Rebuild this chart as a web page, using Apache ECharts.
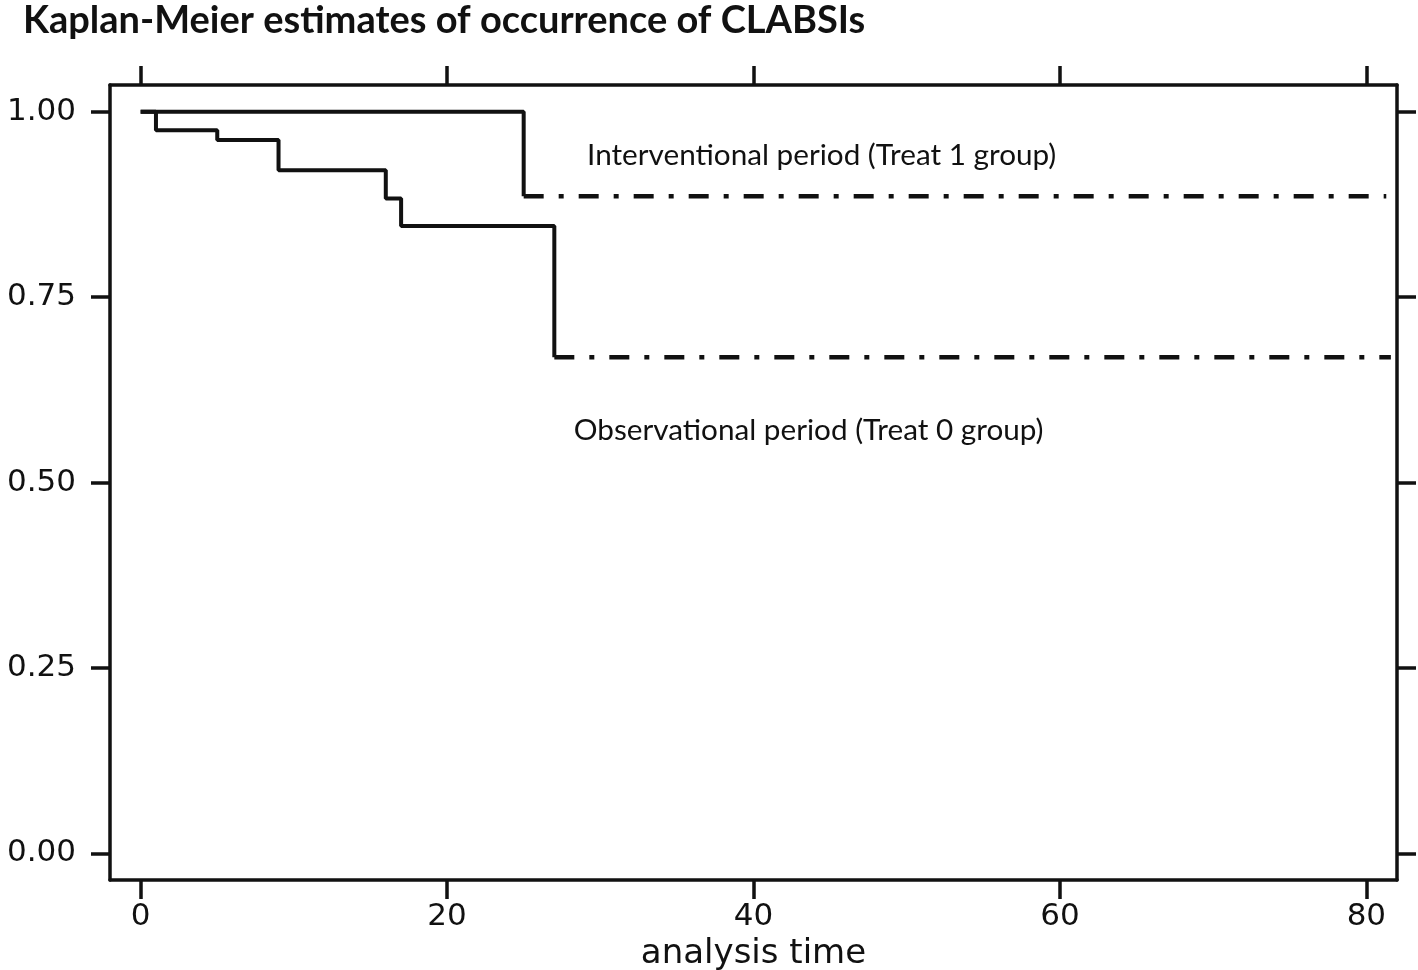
<!DOCTYPE html>
<html>
<head>
<meta charset="utf-8">
<script src="https://cdn.jsdelivr.net/npm/echarts@6/dist/echarts.min.js"></script>
<style>html,body{margin:0;padding:0;background:#fff;}#c{width:1418px;height:970px;}</style>
</head>
<body>
<div id="c"></div>
<script>
// Kaplan-Meier step data
const times0 = [0, 1, 5, 9, 16, 17, 27];
const surv0  = [1.000, 0.975, 0.962, 0.921, 0.883, 0.846, 0.669];
const end0 = 81.6;
const times1 = [0, 25];
const surv1  = [1.000, 0.886];
const end1 = 81.3;
const xTicks = [0, 20, 40, 60, 80];
const yTicks = [0, 0.25, 0.5, 0.75, 1.0];
const titleText = 'Kaplan-Meier estimates of occurrence of CLABSIs';
const xName = 'analysis time';
const label1 = 'Interventional period (Treat 1 group)';
const label0 = 'Observational period (Treat 0 group)';

const pairs = (t, s) => t.map((v, i) => [v, s[i]]);
const dashDot = [20, 15, 5, 15];
const ink = '#111';

const chart = echarts.init(document.getElementById('c'));
const axisCommon = {
  axisLine: {show: true, onZero: false, lineStyle: {color: ink, width: 3.5}},
  splitLine: {show: false}
};
const tickStyle = {color: ink, width: 3.5};
chart.setOption({
  animation: false,
  title: {text: titleText, left: 18, top: -3,
    textStyle: {fontFamily: 'Lato', fontWeight: 'bold', fontSize: 38, color: ink}},
  grid: {left: 110, right: 21, top: 85, bottom: 90, outerBoundsMode: 'none', containLabel: false},
  xAxis: [
    Object.assign({type: 'value', min: -2, max: 82, position: 'bottom',
      name: xName, nameLocation: 'middle', nameGap: 53,
      nameTextStyle: {fontFamily: 'DejaVu Sans', fontSize: 34, color: ink},
      axisTick: {show: true, length: 19, lineStyle: tickStyle, customValues: xTicks},
      axisLabel: {fontFamily: 'DejaVu Sans', fontSize: 31, color: ink, margin: 21, customValues: xTicks}
    }, axisCommon),
    Object.assign({type: 'value', min: -2, max: 82, position: 'top',
      axisTick: {show: true, length: 19, lineStyle: tickStyle, customValues: xTicks},
      axisLabel: {show: false, customValues: xTicks}
    }, axisCommon)
  ],
  yAxis: [
    Object.assign({type: 'value', min: -0.036, max: 1.036, position: 'left',
      axisTick: {show: true, length: 19, lineStyle: tickStyle, customValues: yTicks},
      axisLabel: {fontFamily: 'DejaVu Sans', fontSize: 31, color: ink, margin: 34, customValues: yTicks,
        formatter: v => v.toFixed(2)}
    }, axisCommon),
    Object.assign({type: 'value', min: -0.036, max: 1.036, position: 'right',
      axisTick: {show: true, length: 19, lineStyle: tickStyle, customValues: yTicks},
      axisLabel: {show: false, customValues: yTicks}
    }, axisCommon)
  ],
  series: [
    {type: 'line', step: 'end', data: pairs(times1, surv1), symbol: 'none', clip: true,
      lineStyle: {color: ink, width: 4}},
    {type: 'line', data: [[times1[times1.length-1], surv1[surv1.length-1]], [end1, surv1[surv1.length-1]]],
      symbol: 'none', clip: true, lineStyle: {color: ink, width: 4.5, type: dashDot, cap: 'butt'}},
    {type: 'line', step: 'end', data: pairs(times0, surv0), symbol: 'none', clip: true,
      lineStyle: {color: ink, width: 4}},
    {type: 'line', data: [[times0[times0.length-1], surv0[surv0.length-1]], [end0, surv0[surv0.length-1]]],
      symbol: 'none', clip: true, lineStyle: {color: ink, width: 4.5, type: dashDot, cap: 'butt'}}
  ]
});

const p1 = chart.convertToPixel({gridIndex: 0}, [44.45, 0.9416]);
const p0 = chart.convertToPixel({gridIndex: 0}, [43.6, 0.5706]);
chart.setOption({
  graphic: [
    {type: 'text', x: p1[0], y: p1[1], style: {text: label1, fontFamily: 'Lato', fontSize: 29.7,
      fill: ink, align: 'center', verticalAlign: 'middle'}},
    {type: 'text', x: p0[0], y: p0[1], style: {text: label0, fontFamily: 'Lato', fontSize: 29.7,
      fill: ink, align: 'center', verticalAlign: 'middle'}}
  ]
});
</script>
</body>
</html>
